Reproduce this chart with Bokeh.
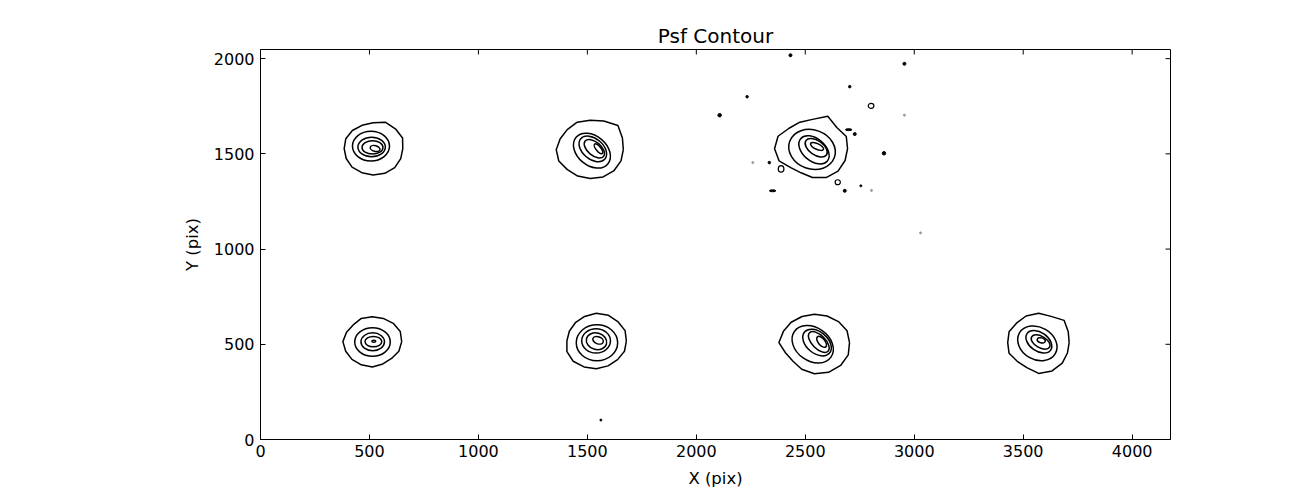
import numpy as np
from bokeh.plotting import figure
from bokeh.models import SingleIntervalTicker, Range1d
from bokeh.embed import file_html
from bokeh.resources import INLINE

# ---------------- data (in image pixels) ----------------
X_MAX = 4176
Y_MAX = 2048
x_ticks = [0, 500, 1000, 1500, 2000, 2500, 3000, 3500, 4000]
y_ticks = [0, 500, 1000, 1500, 2000]

# outermost contour of each PSF: centre and radius every 22.5 deg (from +x, CCW)
outer_cx = [517, 1513, 2533, 513, 1541, 2542, 3571]
outer_cy = [1527, 1522, 1527, 514, 517, 509, 509]
outer_r = [
    [136, 146, 146, 150, 136, 133, 135, 136, 133, 134, 137, 136, 138, 140, 140, 137],
    [152, 160, 180, 163, 154, 156, 149, 149, 156, 156, 148, 150, 151, 155, 155, 153],
    [161, 168, 158, 184, 154, 151, 152, 171, 174, 166, 141, 137, 151, 164, 166, 162],
    [135, 139, 136, 132, 130, 132, 124, 128, 135, 132, 132, 132, 133, 127, 125, 132],
    [138, 143, 142, 146, 146, 140, 136, 134, 135, 146, 150, 147, 146, 141, 138, 140],
    [161, 162, 156, 151, 149, 148, 151, 154, 163, 143, 139, 152, 164, 169, 170, 168],
    [140, 147, 165, 149, 154, 151, 144, 147, 142, 147, 139, 142, 162, 161, 153, 143],
]

# inner contour levels (ellipses): centre, width, height, tilt (deg)
inner_cx = [507, 510, 514, 526,
            1521, 1525, 1532, 1551,
            2531, 2540, 2550, 2554,
            514, 515, 518, 520,
            1544, 1540, 1542, 1549,
            2534, 2554, 2562, 2575,
            3565, 3572, 3580, 3583]
inner_cy = [1541, 1536, 1534, 1528,
            1517, 1526, 1527, 1527,
            1523, 1521, 1532, 1539,
            512, 513, 514, 516,
            508, 518, 516, 521,
            500, 509, 512, 513,
            505, 513, 512, 521]
inner_w = [170, 126, 96, 46,
           190, 145, 110, 55,
           218, 160, 115, 65,
           163, 108, 77, 18,
           190, 132, 95, 50,
           205, 150, 120, 60,
           190, 132, 95, 38]
inner_h = [156, 103, 70, 30,
           155, 108, 70, 25,
           205, 118, 75, 30,
           150, 94, 55, 10,
           190, 128, 87, 37,
           175, 112, 70, 35,
           170, 98, 60, 26]
inner_angle = [0, 0, 0, -15,
               -40, -40, -40, -50,
               -20, -40, -35, -25,
               0, 0, 0, 0,
               0, 0, -15, -20,
               -35, -40, -45, -50,
               -30, -35, -30, -15]

# isolated noise features
dot_x = [2432, 2955, 2233, 2107, 2704, 2727, 2861, 2335, 2681, 2755, 1562]
dot_y = [2018, 1973, 1800, 1703, 1853, 1604, 1503, 1454, 1306, 1332, 102]
dot_s = [3, 3, 2.5, 3.5, 2.5, 3, 3.5, 2.5, 3, 2, 2]
faint_x = [2955, 2259, 2804, 3029]
faint_y = [1703, 1454, 1308, 1085]
loop_x = [2802, 2389, 2649]
loop_y = [1752, 1421, 1351]
loop_w = [26, 26, 24]
loop_h = [26, 34, 26]
dash_x = [2699, 2350]
dash_y = [1627, 1306]
dash_w = [30, 30]
dash_h = [10, 10]

# ---------------- figure ----------------
FONT = "DejaVu Sans"
p = figure(width=1300, height=490, output_backend="svg", toolbar_location=None,
           x_range=Range1d(0, X_MAX), y_range=Range1d(0, Y_MAX),
           title="Psf Contour", x_axis_label="X (pix)", y_axis_label="Y (pix)",
           min_border_left=260, min_border_right=130, min_border_top=49, min_border_bottom=49)
p.title.align = "center"
p.title.text_font = FONT
p.title.text_font_style = "normal"
p.title.text_font_size = "20px"
p.title.text_color = "black"
p.title.standoff = 4
p.grid.visible = False
p.outline_line_color = "black"
p.outline_line_width = 1
p.background_fill_color = "white"
p.border_fill_color = "white"

for ax in (p.xaxis[0], p.yaxis[0]):
    ax.major_tick_in = 5
    ax.major_tick_out = 0
    ax.minor_tick_line_color = None
    ax.axis_line_color = "black"
    ax.major_tick_line_color = "black"
    ax.major_label_text_font = FONT
    ax.major_label_text_font_size = "16px"
    ax.major_label_text_color = "black"
    ax.axis_label_text_font = FONT
    ax.axis_label_text_font_size = "16.5px"
    ax.axis_label_text_font_style = "normal"
    ax.axis_label_text_color = "black"
p.xaxis[0].ticker = x_ticks
p.yaxis[0].ticker = y_ticks
p.xaxis[0].major_label_standoff = 5
p.xaxis[0].axis_label_standoff = 9
p.yaxis[0].major_label_standoff = 6
p.yaxis[0].axis_label_standoff = 9

# mirrored inward ticks on the top and right edges of the frame
p.ray(x=x_ticks, y=[Y_MAX] * len(x_ticks), length=5, length_units="screen",
      angle=-90, angle_units="deg", line_color="black", line_width=1)
p.ray(x=[X_MAX] * len(y_ticks), y=y_ticks, length=5, length_units="screen",
      angle=180, angle_units="deg", line_color="black", line_width=1)

# outer contours as closed polylines
theta = np.deg2rad(np.arange(16) * 22.5)
xs, ys = [], []
for cx, cy, rr in zip(outer_cx, outer_cy, outer_r):
    rr = np.asarray(rr, dtype=float)
    x = cx + rr * np.cos(theta)
    y = cy + rr * np.sin(theta)
    xs.append(list(x) + [x[0]])
    ys.append(list(y) + [y[0]])
p.multi_line(xs, ys, line_color="black", line_width=1.5)

p.ellipse(x=inner_cx, y=inner_cy, width=inner_w, height=inner_h, angle=inner_angle,
          angle_units="deg", fill_color=None, line_color="black", line_width=1.5)

p.scatter(dot_x, dot_y, size=dot_s, color="black")
p.scatter(faint_x, faint_y, size=2, color="#999999")
p.ellipse(x=loop_x, y=loop_y, width=loop_w, height=loop_h, fill_color=None,
          line_color="black", line_width=1.2)
p.ellipse(x=dash_x, y=dash_y, width=dash_w, height=dash_h, fill_color="black",
          line_color="black", line_width=1)

open("out.html", "w").write(file_html(p, INLINE))
